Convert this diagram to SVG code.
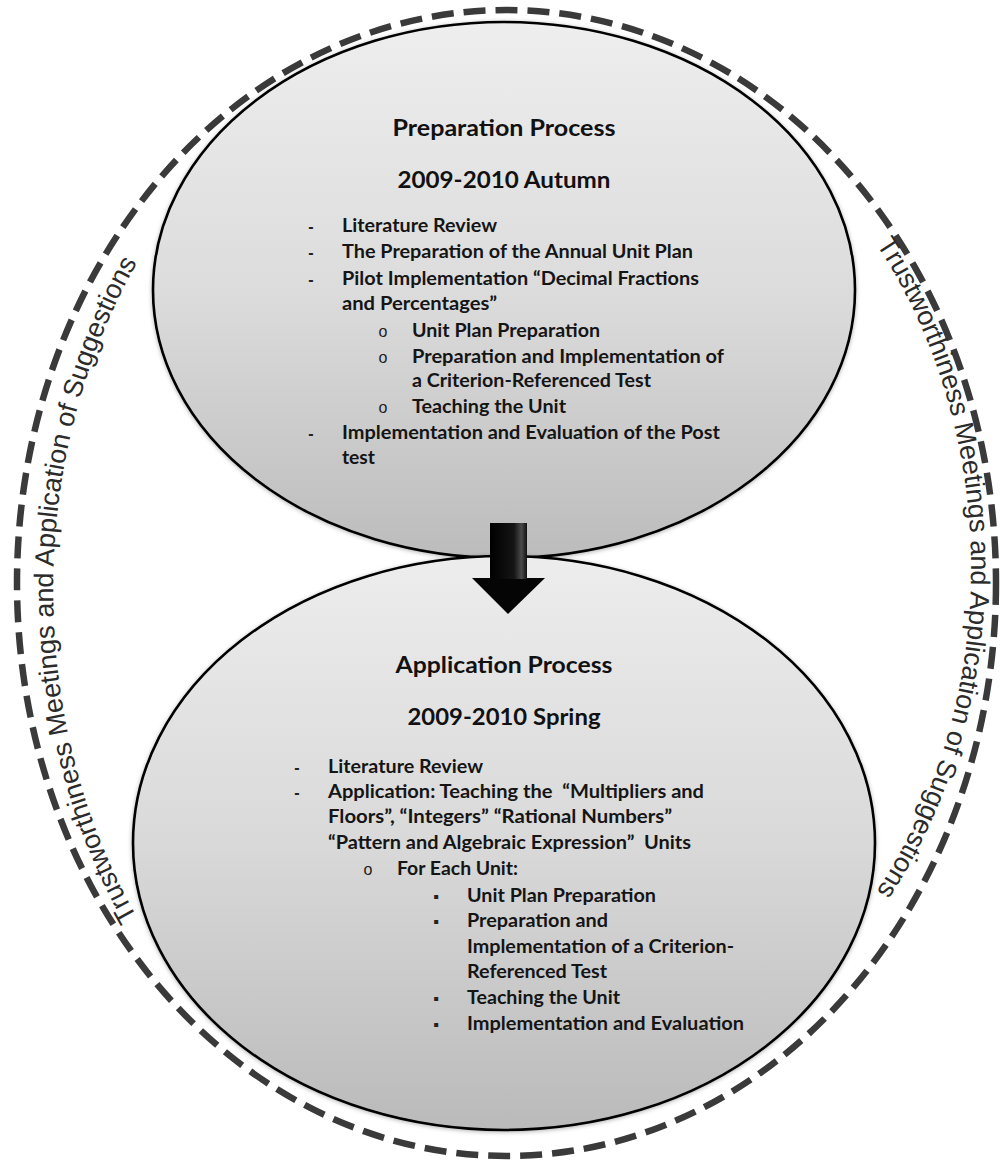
<svg xmlns="http://www.w3.org/2000/svg" width="1003" height="1162" viewBox="0 0 1003 1162">
  <style>
    .ring { fill: none; stroke: #3a3a3a; stroke-width: 6.5; stroke-dasharray: 22 10; }
    .arc-label { font-family: "Liberation Sans", Arial, sans-serif; font-size: 27px; fill: #2b2b2b; }
    .bubble { stroke: #000; stroke-width: 2.6; }
    .title { font-family: Lato, "Liberation Sans", sans-serif; font-weight: bold; font-size: 22px; fill: #111; text-anchor: middle; }
    .item { font-family: Lato, "Liberation Sans", sans-serif; font-weight: bold; font-size: 18px; fill: #151515; white-space: pre; }
    .mark { font-family: "Liberation Sans", sans-serif; font-size: 16px; fill: #222; text-anchor: middle; }
    .dash { font-weight: bold; }
  </style>
  <defs>
    <linearGradient id="fillTop" x1="0" y1="0" x2="0" y2="1">
      <stop offset="0" stop-color="#eeeeee"/>
      <stop offset="0.5" stop-color="#dcdcdc"/>
      <stop offset="1" stop-color="#bcbcbc"/>
    </linearGradient>
    <linearGradient id="fillBottom" x1="0" y1="0" x2="0" y2="1">
      <stop offset="0" stop-color="#ededed"/>
      <stop offset="0.5" stop-color="#d9d9d9"/>
      <stop offset="1" stop-color="#bababa"/>
    </linearGradient>
    <linearGradient id="shaftShade" gradientUnits="userSpaceOnUse" x1="490" y1="0" x2="527" y2="0">
      <stop offset="0" stop-color="#000"/>
      <stop offset="0.65" stop-color="#151515"/>
      <stop offset="0.85" stop-color="#4a4a4a"/>
      <stop offset="1" stop-color="#111"/>
    </linearGradient>
    <filter id="soft" x="-5%" y="-5%" width="110%" height="110%">
      <feDropShadow dx="0" dy="1" stdDeviation="2" flood-color="#000" flood-opacity="0.3"/>
    </filter>
    <path id="leftArc" d="M 506,1154 A 453,564 0 0 1 506,26"/>
    <path id="rightArc" d="M 512,36 A 459,532 0 0 1 512,1100"/>
  </defs>

  <rect width="1003" height="1162" fill="#fff"/>

  <!-- surrounding dashed loop with its arched captions -->
  <g id="loop">
    <ellipse class="ring" cx="506.5" cy="583" rx="489.5" ry="573"/>
    <text class="arc-label"><textPath href="#leftArc" startOffset="50%" text-anchor="middle">Trustworthiness Meetings and Application of Suggestions</textPath></text>
    <text class="arc-label"><textPath href="#rightArc" startOffset="50%" text-anchor="middle">Trustworthiness Meetings and Application of Suggestions</textPath></text>
  </g>

  <!-- autumn stage -->
  <g id="preparation">
    <ellipse class="bubble" cx="504" cy="290" rx="351" ry="268" fill="url(#fillTop)" filter="url(#soft)"/>
    <text class="title" x="504" y="136" textLength="223" lengthAdjust="spacingAndGlyphs">Preparation Process</text>
    <text class="title" x="504" y="188" textLength="213" lengthAdjust="spacingAndGlyphs">2009-2010 Autumn</text>
    <text class="mark dash" x="311" y="232">-</text>
    <text class="item" x="342" y="232" textLength="155" lengthAdjust="spacingAndGlyphs">Literature Review</text>
    <text class="mark dash" x="311" y="258">-</text>
    <text class="item" x="342" y="258" textLength="351" lengthAdjust="spacingAndGlyphs">The Preparation of the Annual Unit Plan</text>
    <text class="mark dash" x="311" y="285">-</text>
    <text class="item" x="342" y="285" textLength="357" lengthAdjust="spacingAndGlyphs">Pilot Implementation “Decimal Fractions</text>
    <text class="item" x="342" y="310" textLength="155" lengthAdjust="spacingAndGlyphs">and Percentages”</text>
    <text class="mark" x="383" y="337">o</text>
    <text class="item" x="412" y="337" textLength="188" lengthAdjust="spacingAndGlyphs">Unit Plan Preparation</text>
    <text class="mark" x="383" y="363">o</text>
    <text class="item" x="412" y="363" textLength="312" lengthAdjust="spacingAndGlyphs">Preparation and Implementation of</text>
    <text class="item" x="412" y="387" textLength="239" lengthAdjust="spacingAndGlyphs">a Criterion-Referenced Test</text>
    <text class="mark" x="383" y="413">o</text>
    <text class="item" x="412" y="413" textLength="154" lengthAdjust="spacingAndGlyphs">Teaching the Unit</text>
    <text class="mark dash" x="311" y="439">-</text>
    <text class="item" x="342" y="439" textLength="378" lengthAdjust="spacingAndGlyphs">Implementation and Evaluation of the Post</text>
    <text class="item" x="342" y="464" textLength="33" lengthAdjust="spacingAndGlyphs">test</text>
  </g>

  <!-- spring stage -->
  <g id="application">
    <ellipse class="bubble" cx="504" cy="843" rx="371" ry="287" fill="url(#fillBottom)" filter="url(#soft)"/>
    <text class="title" x="504" y="673" textLength="217" lengthAdjust="spacingAndGlyphs">Application Process</text>
    <text class="title" x="504" y="725" textLength="193" lengthAdjust="spacingAndGlyphs">2009-2010 Spring</text>
    <text class="mark dash" x="297" y="773">-</text>
    <text class="item" x="328" y="773" textLength="155" lengthAdjust="spacingAndGlyphs">Literature Review</text>
    <text class="mark dash" x="297" y="798">-</text>
    <text class="item" x="328" y="798" textLength="376" lengthAdjust="spacingAndGlyphs">Application: Teaching the  “Multipliers and</text>
    <text class="item" x="328" y="823" textLength="344" lengthAdjust="spacingAndGlyphs">Floors”, “Integers” “Rational Numbers”</text>
    <text class="item" x="328" y="849" textLength="363" lengthAdjust="spacingAndGlyphs">“Pattern and Algebraic Expression”  Units</text>
    <text class="mark" x="368" y="875">o</text>
    <text class="item" x="397" y="875" textLength="121" lengthAdjust="spacingAndGlyphs">For Each Unit:</text>
    <text class="mark" x="436" y="902">▪</text>
    <text class="item" x="467" y="902" textLength="189" lengthAdjust="spacingAndGlyphs">Unit Plan Preparation</text>
    <text class="mark" x="436" y="927">▪</text>
    <text class="item" x="467" y="927" textLength="141" lengthAdjust="spacingAndGlyphs">Preparation and</text>
    <text class="item" x="467" y="953" textLength="267" lengthAdjust="spacingAndGlyphs">Implementation of a Criterion-</text>
    <text class="item" x="467" y="978" textLength="140" lengthAdjust="spacingAndGlyphs">Referenced Test</text>
    <text class="mark" x="436" y="1004">▪</text>
    <text class="item" x="467" y="1004" textLength="153" lengthAdjust="spacingAndGlyphs">Teaching the Unit</text>
    <text class="mark" x="436" y="1030">▪</text>
    <text class="item" x="467" y="1030" textLength="277" lengthAdjust="spacingAndGlyphs">Implementation and Evaluation</text>
  </g>

  <!-- block arrow from autumn to spring -->
  <g id="connectors">
    <g id="arrow-prep-to-app">
      <polygon points="472,578 545,578 508,614" fill="#050505"/>
      <rect x="490" y="523" width="37" height="56" fill="url(#shaftShade)"/>
    </g>
  </g>
</svg>
